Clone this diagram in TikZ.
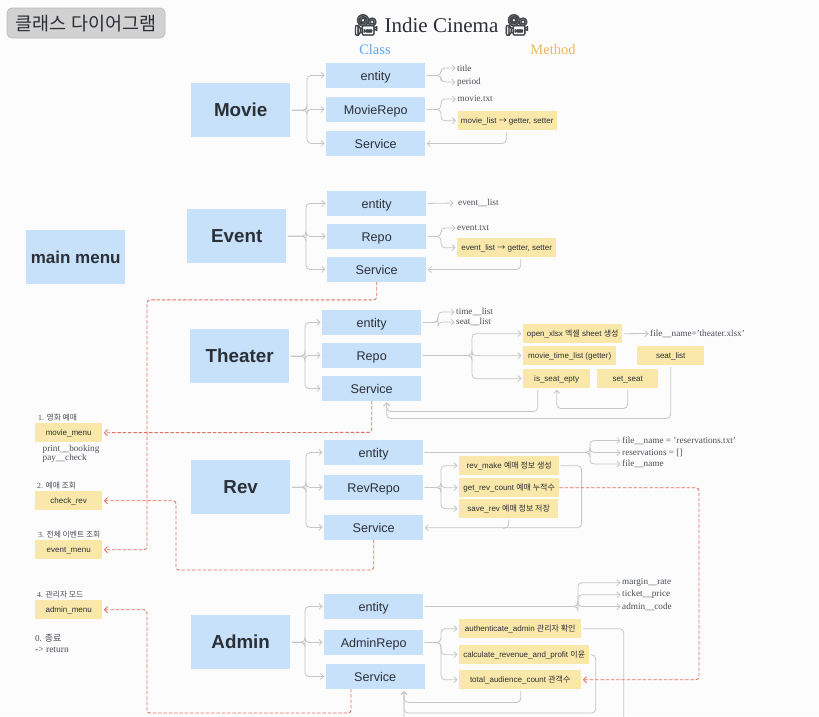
\documentclass[tikz,border=0pt]{standalone}
\usepackage{fontspec}
\setmainfont{Liberation Serif}
\newfontfamily\ns{Liberation Sans}
\newfontfamily\kr{Noto Sans CJK KR}
\newfontfamily\emo[FakeBold=2.5]{Noto Emoji}
\usetikzlibrary{arrows.meta}
\definecolor{pagebg}{HTML}{FCFCFC}
\definecolor{bluefill}{HTML}{C8E1FB}
\definecolor{yelfill}{HTML}{F9E8A9}
\definecolor{ink}{HTML}{2B2F36}
\definecolor{linegray}{HTML}{C6C6C6}
\definecolor{dashred}{HTML}{E3735E}
\newcommand{\fs}[1]{\fontsize{#1}{#1}\selectfont}
\newcommand{\branch}[3]{%
  \coordinate (busx) at (#3,0);
  \draw[conn] (#1.east) -- (busx |- #1.east) -- (busx |- #2.west) -- (#2.west);}
\tikzset{
  big/.style={fill=bluefill,draw=none,inner sep=0,anchor=north west,minimum width=99,minimum height=54,font=\ns\bfseries\fs{18.8},text=ink,text height=13.4pt,text depth=0pt},
  cls/.style={fill=bluefill,draw=none,inner sep=0,anchor=north west,minimum width=99,minimum height=24.5,font=\ns\fs{12.6},text=ink,text height=9.5pt,text depth=0pt},
  mth/.style={fill=yelfill,draw=none,inner sep=0,anchor=north west,minimum height=19,font=\ns\fs{8},text=ink,text height=6pt,text depth=0pt},
  lbl/.style={inner sep=0,anchor=west,font=\fs{9.2},text=ink!85},
  conn/.style={draw=linegray,line width=0.8pt,rounded corners=4pt,-{Straight Barb[length=3pt,width=6pt]},shorten >=1.5pt,shorten <=1.5pt},
  plainline/.style={draw=linegray,line width=0.8pt,rounded corners=4pt,shorten <=1pt},
  dashlink/.style={draw=dashred,line width=0.9pt,rounded corners=3pt,dash pattern=on 3.5pt off 1.8pt,-{Straight Barb[length=3pt,width=6pt]},shorten >=1.5pt}
}
\begin{document}
\begin{tikzpicture}[x=1pt,y=-1pt]
\useasboundingbox[fill=pagebg] (0,0) rectangle (819,716);
% heading
\node[fill=black!18,draw=black!27,line width=0.8pt,rounded corners=5pt,minimum width=158,minimum height=30,inner sep=0,font=\kr\fs{18.5},text=ink,text height=14pt,text depth=0pt] (tag) at (86,23) {클래스 다이어그램};
\node[inner sep=0,font=\fs{21},text=ink] (head) at (441.5,25) {{\emo\textcolor{ink!90}{🎥}} Indie Cinema {\emo\textcolor{ink!90}{🎥}}};
\node[inner sep=0,font=\fs{14.5}] (classh) at (375,50) {\textcolor[HTML]{5EA7FB}{Class}};
\node[inner sep=0,font=\fs{14.5}] (methh) at (553,50) {\textcolor[HTML]{F1B560}{Method}};
% main menu
\node[big,font=\ns\bfseries\fs{17}] (mainm) at (26,230) {main menu};
% Movie
\node[big] (movie) at (191,83) {Movie};
\node[cls] (me) at (326,63) {entity};
\node[cls] (mr) at (326,97) {MovieRepo};
\node[cls] (ms) at (326,131) {Service};
\node[lbl] (mt1) at (457,68) {title};
\node[lbl] (mt2) at (457,82) {period};
\node[lbl] (mt3) at (457.5,99) {movie.txt};
\node[mth,minimum width=99] (mlist) at (457.5,111) {movie\_list {\kr →} getter, setter};
\branch{movie}{me}{307}\branch{movie}{mr}{307}\branch{movie}{ms}{307}
\branch{me}{mt1}{441}\branch{me}{mt2}{441}
\branch{mr}{mt3}{441}\branch{mr}{mlist}{441}
\draw[conn] ([xshift=-1pt]mlist.south) |- (ms.east);
% Event
\node[big] (event) at (187,209) {Event};
\node[cls] (ee) at (327,191) {entity};
\node[cls] (er) at (327,224) {Repo};
\node[cls] (es) at (327,257) {Service};
\node[lbl] (et1) at (458,203) {event\_\_list};
\node[lbl] (et2) at (457,228) {event.txt};
\node[mth,minimum width=99] (elist) at (457,238) {event\_list {\kr →} getter, setter};
\branch{event}{ee}{306}\branch{event}{er}{306}\branch{event}{es}{306}
\draw[conn] (ee.east) -- ([xshift=-3pt]et1.west);
\branch{er}{et2}{441}\branch{er}{elist}{441}
\draw[conn] ([xshift=14pt]elist.south) |- (es.east);
% Theater
\node[big] (theater) at (190,329) {Theater};
\node[cls] (te) at (322,310) {entity};
\node[cls] (tr) at (322,343) {Repo};
\node[cls] (ts) at (322,376) {Service};
\node[lbl] (tt1) at (456,312) {time\_\_list};
\node[lbl] (tt2) at (456,322) {seat\_\_list};
\node[mth,minimum width=99] (topen) at (523,324) {open\_xlsx {\kr 엑셀} sheet {\kr 생성}};
\node[mth,minimum width=93] (ttime) at (523,346) {movie\_time\_list (getter)};
\node[mth,minimum width=67] (tseat) at (637,346) {seat\_list};
\node[mth,minimum width=67] (tis) at (523,369) {is\_seat\_epty};
\node[mth,minimum width=61] (tset) at (597,369) {set\_seat};
\node[lbl] (tfile) at (650,333.5) {file\_\_name='theater.xlsx'};
\branch{theater}{te}{305}\branch{theater}{tr}{305}\branch{theater}{ts}{305}
\branch{te}{tt1}{438}\branch{te}{tt2}{438}
\branch{tr}{topen}{472}\branch{tr}{ttime}{472}\branch{tr}{tis}{472}
\draw[conn] (topen.east) -- (tfile.west);
\draw[conn] ([xshift=-19pt]tis.south) -- ++(0,23) -| ([xshift=15pt]ts.south);
\draw[conn] ([xshift=0pt]tset.south) -- ++(0,20) -| ([xshift=0pt]tis.south);
\draw[conn] (tseat.south) -- ++(0,53) -| ([xshift=15pt]ts.south);
% Rev
\node[big] (rev) at (191,460) {Rev};
\node[cls] (re) at (324,440) {entity};
\node[cls] (rr) at (324,475) {RevRepo};
\node[cls] (rs) at (324,515) {Service};
\node[lbl] (rt1) at (622,440.5) {file\_\_name = 'reservations.txt'};
\node[lbl] (rt2) at (622,452.5) {reservations = []};
\node[lbl] (rt3) at (622,464) {file\_\_name};
\node[mth,minimum width=100] (rmake) at (459,456) {rev\_make {\kr 예매 정보 생성}};
\node[mth,minimum width=100] (rget) at (459,478) {get\_rev\_count {\kr 예매 누적수}};
\node[mth,minimum width=99] (rsave) at (459,499) {save\_rev {\kr 예매 정보 저장}};
\branch{rev}{re}{306}\branch{rev}{rr}{306}\branch{rev}{rs}{306}
\branch{re}{rt1}{590}\branch{re}{rt2}{590}\branch{re}{rt3}{590}
\branch{rr}{rmake}{441}\branch{rr}{rget}{441}\branch{rr}{rsave}{441}
\coordinate (rturn) at (581.6,527.7);
\draw[conn] (rmake.east) -- (rturn |- rmake.east) -- (rturn) -- (rs.east |- rturn);
\draw[plainline] (rsave.south) -- ++(0,9.7) -- ++(-6,0);
% Admin
\node[big] (admin) at (191,615) {Admin};
\node[cls] (ae) at (324,594) {entity};
\node[cls] (ar) at (324,630) {AdminRepo};
\node[cls] (as) at (325.5,664) {Service};
\node[lbl] (at1) at (622,582.7) {margin\_\_rate};
\node[lbl] (at2) at (622,594.7) {ticket\_\_price};
\node[lbl] (at3) at (622,606.5) {admin\_\_code};
\node[mth,minimum width=122] (aauth) at (459,619) {authenticate\_admin {\kr 관리자 확인}};
\node[mth,minimum width=130] (acalc) at (459,645) {calculate\_revenue\_and\_profit {\kr 이윤}};
\node[mth,minimum width=122] (atotal) at (459,670) {total\_audience\_count {\kr 관객수}};
\branch{admin}{ae}{305}\branch{admin}{ar}{305}\branch{admin}{as}{305}
\branch{ae}{at1}{578}\branch{ae}{at2}{578}\branch{ae}{at3}{578}
\branch{ar}{aauth}{441}\branch{ar}{acalc}{441}\branch{ar}{atotal}{441}
\coordinate (asin) at (404,689.5);
\draw[conn] ([xshift=0.5pt]atotal.south) -- ++(0,13) -| (asin);
\coordinate (acr) at (595.7,713);
\draw[conn] (acalc.east) -- (acr |- acalc.east) -- (acr) -| (asin);
\coordinate (aut) at (623.7,730);
\draw[conn] (aauth.east) -- (aut |- aauth.east) -- (aut) -| (asin);
% Menu column
\node[mth,minimum width=67] (m1) at (35,423) {movie\_menu};
\node[mth,minimum width=67] (m2) at (35,491) {check\_rev};
\node[mth,minimum width=67] (m3) at (35,540) {event\_menu};
\node[mth,minimum width=67] (m4) at (35,600) {admin\_menu};
\node[lbl,font=\fs{7.8}] (l1) at (38,418) {1. {\kr 영화 예매}};
\node[lbl,font=\fs{7.8}] (l2) at (37,486) {2. {\kr 예매 조회}};
\node[lbl,font=\fs{7.8}] (l3) at (38,535) {3. {\kr 전체 이벤트 조회}};
\node[lbl,font=\fs{7.8}] (l4) at (37,595) {4. {\kr 관리자 모드}};
\node[lbl] (p1) at (42.5,449) {print\_\_booking};
\node[lbl] (p2) at (42.5,458) {pay\_\_check};
\node[lbl,font=\fs{9}] (z1) at (35,638) {0. {\kr 종료}};
\node[lbl,font=\fs{9.5}] (z2) at (35,650) {-> return};
% dashed links
\coordinate (mbus) at (147,0);
\draw[dashlink] (es.south) -- ++(0,18) -| (mbus |- m3.east) -- (m3.east);
\draw[dashlink] (ts.south) -- ++(0,31.5) -- (m1.east);
\coordinate (rbus) at (176,570);
\draw[dashlink] (rs.south) -- (rs.south |- rbus) -- (rbus) -- (rbus |- m2.east) -- (m2.east);
\coordinate (abot) at (351,713);
\draw[dashlink] (as.south -| abot) -- (abot) -- (abot -| mbus) -- (mbus |- m4.east) -- (m4.east);
\coordinate (dright) at (699,0);
\draw[dashlink] (rget.east) -- (dright |- rget.east) -- (dright |- atotal.east) -- (atotal.east);
\end{tikzpicture}
\end{document}
